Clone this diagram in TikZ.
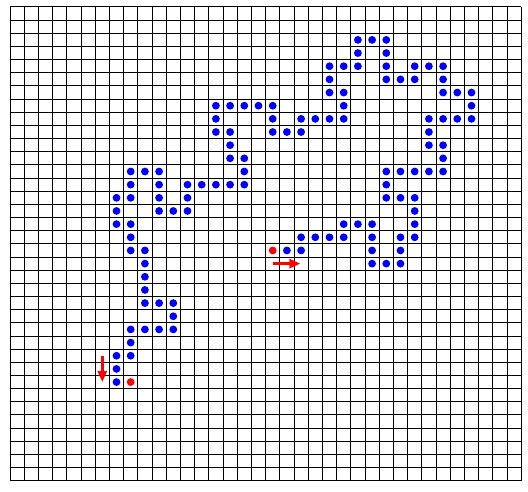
\documentclass[tikz,border=0pt]{standalone}
\usetikzlibrary{arrows.meta}
\begin{document}
\begin{tikzpicture}[
  gridline/.style={black, line width=1pt},
  bluedot/.style={fill=blue},
  reddot/.style={fill=red},
  redarrow/.style={red, line width=2.7pt, -{Triangle[length=11pt,width=9pt]}}
]
\useasboundingbox (0,0) rectangle (528pt,491pt);
\fill[white] (0,0) rectangle (528pt,491pt);
\begin{scope}[shift={(10pt,484pt)}, x=14.2pt, y=-13.16pt]
  \foreach \i in {0,...,36} {
    \draw[gridline] (\i,0) -- (\i,36);
    \draw[gridline] (0,\i) -- (36,\i);
  }
  \foreach \c/\r in {
    24/2,25/2,26/2,
    24/3,26/3,
    22/4,23/4,24/4,26/4,28/4,29/4,30/4,
    22/5,26/5,27/5,28/5,30/5,
    22/6,23/6,30/6,31/6,32/6,
    14/7,15/7,16/7,17/7,18/7,23/7,32/7,
    14/8,18/8,20/8,21/8,22/8,23/8,29/8,30/8,31/8,32/8,
    14/9,15/9,18/9,19/9,20/9,29/9,
    15/10,29/10,30/10,
    15/11,16/11,30/11,
    8/12,9/12,10/12,16/12,26/12,27/12,28/12,29/12,30/12,
    8/13,10/13,12/13,13/13,14/13,15/13,16/13,26/13,
    7/14,8/14,10/14,12/14,26/14,27/14,28/14,
    7/15,10/15,11/15,12/15,28/15,
    7/16,8/16,23/16,24/16,25/16,28/16,
    8/17,20/17,21/17,22/17,23/17,25/17,27/17,28/17,
    8/18,9/18,19/18,20/18,25/18,27/18,
    9/19,25/19,26/19,27/19,
    9/20,9/21,9/22,10/22,11/22,11/23,
    8/24,9/24,10/24,11/24,
    8/25,7/26,8/26,7/27,7/28}
  {
    \fill[bluedot] (\c+0.5,\r+0.5) circle[radius=3.9pt];
  }
  \fill[reddot] (18.5,18.5) circle[radius=3.9pt];
  \fill[reddot] (8.5,28.5) circle[radius=3.9pt];
  \coordinate (hstart) at (18.5,19.5);
  \coordinate (hend) at (20.45,19.5);
  \coordinate (vstart) at (6.5,26.5);
  \coordinate (vend) at (6.5,28.5);
  \draw[redarrow] (hstart) -- (hend);
  \draw[redarrow] (vstart) -- (vend);
\end{scope}
\end{tikzpicture}
\end{document}
